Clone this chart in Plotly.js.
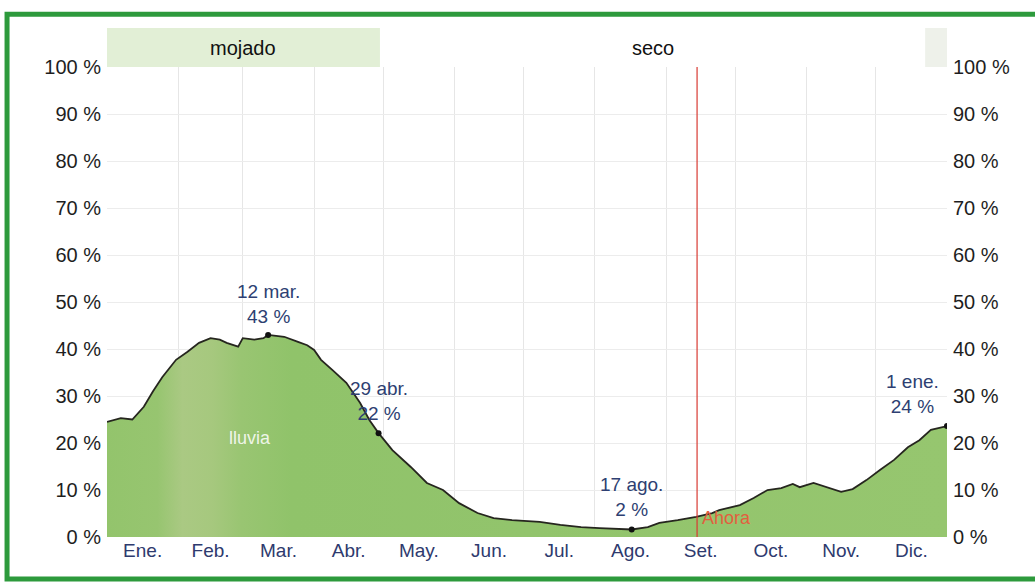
<!DOCTYPE html>
<html>
<head>
<meta charset="utf-8">
<script src="https://cdn.plot.ly/plotly-3.0.1.min.js"></script>
<style>html,body{margin:0;padding:0;background:#fff;}#chart{width:1035px;height:585px;}</style>
</head>
<body>
<div id="chart"></div>
<script>
// Day of year (0..365) and probability of rain (%)
const days = [0,6,11,16,20,24,30,35,40,45,49,52,57,59,64,68,70,77,83,87,90,93,98,104,110,114,118,124,132,139,146,153,161,168,176,188,197,206,214,222,228,235,240,248,256,263,266,275,281,287,293,298,301,307,313,319,324,330,336,342,348,353,358,365];
const rainPct = [24.5,25.3,25,27.7,31,34,37.7,39.4,41.3,42.3,42,41.3,40.5,42.3,42,42.3,43,42.6,41.5,40.8,39.8,37.7,35.5,32.8,28.5,24.9,22.1,18.5,14.9,11.5,10,7.2,5.1,4,3.6,3.2,2.6,2.1,1.9,1.7,1.6,2.1,3,3.6,4.3,5.1,5.7,6.8,8.3,10,10.4,11.3,10.6,11.5,10.6,9.6,10.2,12.1,14.3,16.4,19.1,20.6,22.8,23.6];

const months = ['Ene.','Feb.','Mar.','Abr.','May.','Jun.','Jul.','Ago.','Set.','Oct.','Nov.','Dic.'];
const monthLengths = [31,28,31,30,31,30,31,31,30,31,30,31];
const yTicks = [0,10,20,30,40,50,60,70,80,90,100];
const yTickText = yTicks.map(v => v + ' %');

const markDays = [70, 118, 228, 365];
const markDates = ['12 mar.', '29 abr.', '17 ago.', '1 ene.'];
const markPct = [43, 22, 2, 24];

const seasons = [
  {name: 'mojado', start: 0, end: 118.6},
  {name: 'seco', start: 118.6, end: 355.5},
  {name: '', start: 355.5, end: 365}
];
const nowDay = 256.4;

// derived month positions
const bounds = [0];
monthLengths.forEach(l => bounds.push(bounds[bounds.length-1] + l));
const mids = monthLengths.map((l, i) => bounds[i] + l / 2);

function valAt(d) {
  for (let i = 0; i < days.length - 1; i++) {
    if (d >= days[i] && d <= days[i+1]) {
      const t = (d - days[i]) / (days[i+1] - days[i]);
      return rainPct[i] + t * (rainPct[i+1] - rainPct[i]);
    }
  }
  return rainPct[rainPct.length-1];
}
const markY = markDays.map(valAt);

const traces = [
  {
    x: days, y: rainPct, type: 'scatter', mode: 'lines',
    line: {color: '#26261f', width: 1.8},
    fill: 'tozeroy', fillcolor: '#93c46c',
    fillgradient: {type: 'horizontal', start: 0, stop: 365,
      colorscale: [[0,'#93c46c'],[0.06,'#97c570'],[0.09,'#aac983'],[0.125,'#a6c87e'],[0.16,'#99c572'],[0.22,'#90c36a'],[0.5,'#92c46c'],[1,'#96c66f']]},
    hoverinfo: 'skip', showlegend: false
  },
  {
    x: markDays, y: markY, type: 'scatter', mode: 'markers',
    marker: {color: '#111', size: 6}, showlegend: false, hoverinfo: 'skip'
  },
  {
    x: [0, 365], y: [0, 0], yaxis: 'y2', type: 'scatter', mode: 'lines',
    line: {width: 0}, showlegend: false, hoverinfo: 'skip'
  }
];

const bandTop = 1 + 39/470;
const seasonColors = ['#e2efd6', 'rgba(0,0,0,0)', '#eef1ea'];
const shapes = seasons.map((s, i) => ({
  type: 'rect', xref: 'x', yref: 'paper', x0: s.start, x1: s.end, y0: 1, y1: bandTop,
  fillcolor: seasonColors[i], line: {width: 0}, layer: 'below'
}));
shapes.push({type: 'line', xref: 'x', yref: 'paper', x0: nowDay, x1: nowDay, y0: 0, y1: 1,
  line: {color: '#d83a32', width: 1.2}, layer: 'above'});
shapes.push({type: 'rect', xref: 'paper', yref: 'paper', x0: -0.119, x1: 1.12, y0: -0.0895, y1: 1.1125,
  line: {color: '#2d9a3c', width: 5}, fillcolor: 'rgba(0,0,0,0)'});

const annFont = {family: 'Liberation Sans, Arial, sans-serif', size: 19, color: '#2e3f72'};
const annotations = [];
seasons.forEach(s => {
  if (s.name) annotations.push({x: (s.start + s.end) / 2, y: 1 + 19/470, xref: 'x', yref: 'paper',
    yanchor: 'middle', text: s.name, showarrow: false,
    font: {family: 'Liberation Sans, Arial, sans-serif', size: 20, color: '#111'}});
});
markDays.forEach((d, i) => {
  const last = i === markDays.length - 1;
  annotations.push({x: d, y: markY[i], xref: 'x', yref: 'y', text: markDates[i] + '<br>' + markPct[i] + ' %',
    showarrow: false, yanchor: 'bottom', xanchor: last ? 'right' : 'center', xshift: last ? -6 : 0,
    yshift: i === 0 ? 6 : 7, font: annFont, align: 'center'});
});
annotations.push({x: nowDay, y: 4, xref: 'x', yref: 'y', text: 'Ahora', showarrow: false, xanchor: 'left', xshift: 3,
  font: {family: 'Liberation Sans, Arial, sans-serif', size: 18, color: '#e2603f'}});
annotations.push({x: 62, y: 21, xref: 'x', yref: 'y', text: 'lluvia', showarrow: false,
  font: {family: 'Liberation Sans, Arial, sans-serif', size: 18, color: 'rgba(255,255,255,0.85)'}});

const yAxisBase = {
  range: [0, 100], tickvals: yTicks, ticktext: yTickText, fixedrange: true,
  showgrid: true, gridcolor: '#ececec', gridwidth: 1, zeroline: false, showline: false,
  tickfont: {family: 'Liberation Sans, Arial, sans-serif', size: 20, color: '#1e1e1e'},
  ticklabelstandoff: 5
};

const layout = {
  width: 1035, height: 585,
  margin: {l: 107, r: 88, t: 67, b: 48},
  paper_bgcolor: '#ffffff', plot_bgcolor: '#ffffff',
  showlegend: false,
  xaxis: {
    range: [0, 365], tickvals: mids, ticktext: months, showgrid: false, zeroline: false,
    showline: false, ticks: '', fixedrange: true,
    tickfont: {family: 'Liberation Sans, Arial, sans-serif', size: 19, color: '#2e3a6e'},
    minor: {tickvals: bounds.slice(1, -1), showgrid: true, gridcolor: '#e6e6e6', gridwidth: 1, ticks: ''}
  },
  yaxis: Object.assign({}, yAxisBase, {side: 'left'}),
  yaxis2: Object.assign({}, yAxisBase, {side: 'right', overlaying: 'y', showgrid: false}),
  shapes: shapes,
  annotations: annotations
};

Plotly.newPlot('chart', traces, layout, {displayModeBar: false, staticPlot: true});
</script>
</body>
</html>
